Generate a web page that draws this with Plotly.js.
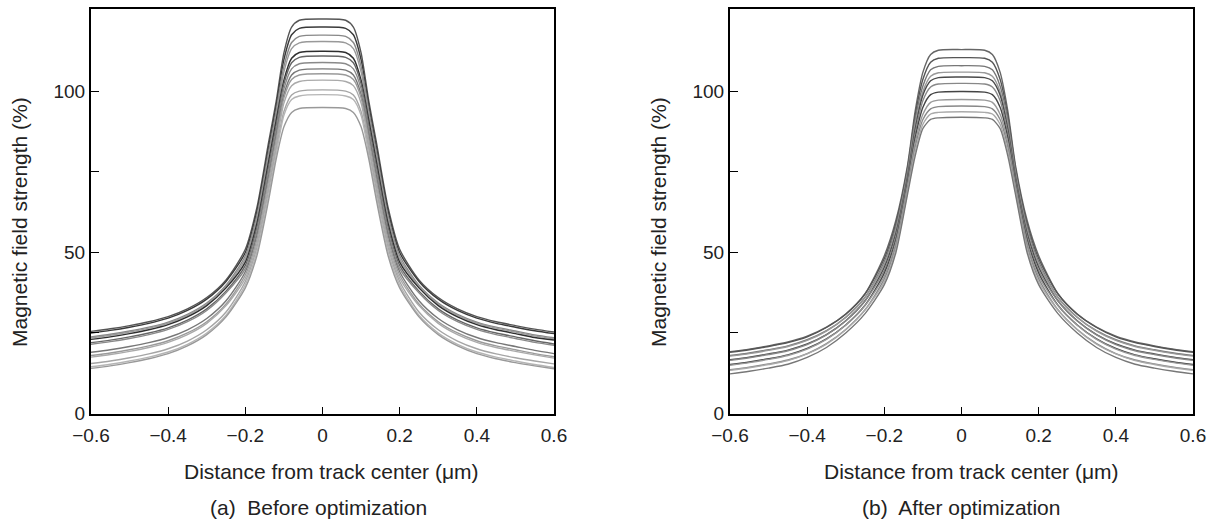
<!DOCTYPE html>
<html>
<head>
<meta charset="utf-8">
<script src="https://cdn.plot.ly/plotly-3.0.1.min.js"></script>
<style>html,body{margin:0;padding:0;background:#fff;}#chart{width:1218px;height:523px;}</style>
</head>
<body>
<div id="chart"></div>
<script>
// Distance from track center (µm)
const xPos = [-0.6,-0.55,-0.5,-0.45,-0.4,-0.35,-0.3,-0.25,-0.2,-0.17,-0.14,-0.12,-0.1,-0.08,-0.06,0,
              0.06,0.08,0.1,0.12,0.14,0.17,0.2,0.25,0.3,0.35,0.4,0.45,0.5,0.55,0.6];

// (a) Before optimization: magnetic field strength (%)
const b01 = [25.5,26.3,27.3,28.5,30.1,32.5,36,41.5,51,64,84,97,112,120,122.1,122.5,122.1,120,112,97,84,64,51,41.5,36,32.5,30.1,28.5,27.3,26.2,25.3];
const b02 = [25,25.8,26.8,28,29.6,32,35.5,41,50,62.8,82.5,95.5,109.9,117.6,119.6,120,119.6,117.6,109.9,95.5,82.5,62.8,50,41,35.5,32,29.6,28,26.8,25.7,24.8];
const b03 = [23.8,24.6,25.6,26.8,28.4,30.8,34.3,39.8,49,61.5,81,94,107.8,115.2,117.1,117.5,117.1,115.2,107.8,94,81,61.5,49,39.8,34.3,30.8,28.4,26.8,25.6,24.4,23.5];
const b04 = [23.5,24.3,25.3,26.5,28.1,30.5,34,39.5,48,60.3,79.5,92.5,106.1,113.3,115.1,115.5,115.1,113.3,106.1,92.5,79.5,60.3,48,39.5,34,30.5,28.1,26.5,25.3,24.1,23.2];
const b05 = [23,23.8,24.8,26,27.6,30,33.5,39,47,59,78,91,103.5,110.3,112.1,112.5,112.1,110.3,103.5,91,78,59,47,39,33.5,30,27.6,26,24.8,23.6,22.8];
const b06 = [22,22.8,23.8,25,26.6,29,32.5,38,46,57.8,76.5,89.5,102.4,108.9,110.6,111,110.6,108.9,102.4,89.5,76.5,57.8,46,38,32.5,29,26.6,25,23.8,22.6,21.6];
const b07 = [21.5,22.3,23.3,24.5,26.1,28.5,32,37.5,45,56.5,75,88,100.8,107,108.6,109,108.6,107,100.8,88,75,56.5,45,37.5,32,28.5,26.1,24.5,23.3,22.1,21.2];
const b08 = [19,19.8,20.8,22,23.6,26,29.5,35,44,55.3,73.5,86.5,99.1,105.1,106.6,107,106.6,105.1,99.1,86.5,73.5,55.3,44,35,29.5,26,23.6,22,20.8,19.6,18.6];
const b09 = [18,18.8,19.8,21,22.6,25,28.5,34,43,54,72,85,98,103.7,105.1,105.5,105.1,103.7,98,85,72,54,43,34,28.5,25,22.6,21,19.8,18.6,17.6];
const b10 = [17.5,18.3,19.3,20.5,22.1,24.5,28,33.5,42,52.8,70.5,83.5,96.4,101.8,103.1,103.5,103.1,101.8,96.4,83.5,70.5,52.8,42,33.5,28,24.5,22.1,20.5,19.3,18.2,17.2];
const b11 = [15.5,16.3,17.3,18.5,20.1,22.5,26,31.5,41,51.5,69,82,93.8,98.9,100.1,100.5,100.1,98.9,93.8,82,69,51.5,41,31.5,26,22.5,20.1,18.5,17.3,16.3,15.4];
const b12 = [14.5,15.3,16.3,17.5,19.1,21.5,25,30.5,40,50.3,67.5,80.5,92.6,97.5,98.6,99,98.6,97.5,92.6,80.5,67.5,50.3,40,30.5,25,21.5,19.1,17.5,16.3,15.2,14.3];
const b13 = [14,14.8,15.8,17,18.6,21,24.5,30,39,49,66,79,89,93.5,94.7,95,94.7,93.5,89,79,66,49,39,30,24.5,21,18.6,17,15.8,14.8,13.9];

// (b) After optimization: magnetic field strength (%)
const a01 = [19.2,20,21,22.2,24,26.8,30.9,37.2,49,60,77,94,106,111.5,112.8,113,112.8,111.5,106,94,77,60,49,37.2,30.9,26.8,24,22.2,21,20,19.2];
const a02 = [19,19.8,20.8,22,23.8,26.7,30.8,37.1,48.1,59,76.1,92.6,103.8,109.1,110.3,110.5,110.3,109.1,103.8,92.6,76.1,59,48.1,37.1,30.8,26.7,23.8,22,20.8,19.8,19];
const a03 = [18,18.8,19.8,21,22.9,25.7,29.9,36.1,47.2,58,75.2,91.2,101.7,106.7,107.8,108,107.8,106.7,101.7,91.2,75.2,58,47.2,36.1,29.9,25.7,22.9,21,19.8,18.8,18];
const a04 = [17.8,18.6,19.6,20.8,22.7,25.6,29.8,36,46.3,57,74.3,89.8,100,104.7,105.8,106,105.8,104.7,100,89.8,74.3,57,46.3,36,29.8,25.6,22.7,20.8,19.6,18.6,17.8];
const a05 = [16.7,17.5,18.5,19.7,21.6,24.5,28.8,35,45.4,56,73.4,88.4,98.9,103.3,104.3,104.5,104.3,103.3,98.9,88.4,73.4,56,45.4,35,28.8,24.5,21.6,19.7,18.5,17.5,16.7];
const a06 = [16.5,17.3,18.3,19.5,21.4,24.4,28.7,34.9,44.5,55,72.5,87,97.2,101.4,102.3,102.5,102.3,101.4,97.2,87,72.5,55,44.5,34.9,28.7,24.4,21.4,19.5,18.3,17.3,16.5];
const a07 = [15.2,16,17,18.2,20.2,23.2,27.5,33.6,43.6,54,71.6,85.6,95.1,99,99.8,100,99.8,99,95.1,85.6,71.6,54,43.6,33.6,27.5,23.2,20.2,18.2,17,16,15.2];
const a08 = [15,15.8,16.8,18,20,23,27.4,33.5,42.7,53,70.7,84.2,92.9,96.6,97.3,97.5,97.3,96.6,92.9,84.2,70.7,53,42.7,33.5,27.4,23,20,18,16.8,15.8,15];
const a09 = [13.6,14.4,15.4,16.6,18.6,21.7,26.1,32.2,41.8,52,69.8,82.8,91.3,94.6,95.3,95.5,95.3,94.6,91.3,82.8,69.8,52,41.8,32.2,26.1,21.7,18.6,16.6,15.4,14.4,13.6];
const a10 = [13.4,14.2,15.2,16.4,18.5,21.5,26,32.1,40.9,51,68.9,81.4,89.8,93,93.5,93.7,93.5,93,89.8,81.4,68.9,51,40.9,32.1,26,21.5,18.5,16.4,15.2,14.2,13.4];
const a11 = [12.3,13.1,14.1,15.3,17.4,20.5,25,31,40,50,68,80,88.5,91.3,91.8,92,91.8,91.3,88.5,80,68,50,40,31,25,20.5,17.4,15.3,14.1,13.1,12.3];

const yTickVals = [0,25,50,75,100];
const yTickText = ['0','','50','','100'];
const xTickVals = [-0.6,-0.4,-0.2,0,0.2,0.4,0.6];
const xTickText = ['\u22120.6','\u22120.4','\u22120.2','0','0.2','0.4','0.6'];

const beforeSeries = [b01,b02,b03,b04,b05,b06,b07,b08,b09,b10,b11,b12,b13];
const afterSeries = [a01,a02,a03,a04,a05,a06,a07,a08,a09,a10,a11];
const beforeColors = ['#555','#3a3a3a','#888','#999','#2e2e2e','#666','#8a8a8a','#777','#9a9a9a','#aaa','#a5a5a5','#b5b5b5','#999'];
const afterColors = ['#666','#555','#777','#999','#4a4a4a','#888','#444','#999','#888','#aaa','#777'];

const traces = [];
beforeSeries.forEach((ys,i)=>traces.push({x:xPos,y:ys,xaxis:'x',yaxis:'y',type:'scatter',mode:'lines',
  line:{color:beforeColors[i],width:1.4,shape:'spline',smoothing:0.7},hoverinfo:'skip',showlegend:false}));
afterSeries.forEach((ys,i)=>traces.push({x:xPos,y:ys,xaxis:'x2',yaxis:'y2',type:'scatter',mode:'lines',
  line:{color:afterColors[i],width:1.4,shape:'spline',smoothing:0.7},hoverinfo:'skip',showlegend:false}));

const W=1218,H=523;
const tickFont={family:'Liberation Sans, Arial, sans-serif',size:19,color:'#222'};
const titleFont={family:'Liberation Sans, Arial, sans-serif',size:21,color:'#222'};
function xa(dom){return {domain:dom,range:[-0.6,0.6],tickmode:'array',tickvals:xTickVals,ticktext:xTickText,
  ticks:'inside',ticklen:7,tickwidth:1,tickcolor:'#000',showline:true,linewidth:2,linecolor:'#000',mirror:true,
  showgrid:false,zeroline:false,tickfont:tickFont,ticklabelstandoff:4,fixedrange:true};}
function ya(anchor){return {domain:[1-413.5/H,1-9/H],range:[0,125.6],anchor:anchor,tickmode:'array',tickvals:yTickVals,ticktext:yTickText,
  ticks:'inside',ticklen:8,tickwidth:1,tickcolor:'#000',showline:true,linewidth:2,linecolor:'#000',mirror:true,
  showgrid:false,zeroline:false,tickfont:tickFont,fixedrange:true};}

const ann=(txt,px,py,angle)=>({text:txt,xref:'paper',yref:'paper',x:px/W,y:1-py/H,xanchor:'center',yanchor:'middle',
  showarrow:false,textangle:angle||0,font:titleFont});

const layout={width:W,height:H,margin:{l:0,r:0,t:0,b:0},paper_bgcolor:'#fff',plot_bgcolor:'#fff',showlegend:false,
  xaxis:Object.assign(xa([91/W,554/W]),{anchor:'y'}),
  yaxis:ya('x'),
  xaxis2:Object.assign(xa([730/W,1193/W]),{anchor:'y2'}),
  yaxis2:ya('x2'),
  annotations:[
    ann('Magnetic field strength (%)',19,222,-90),
    ann('Magnetic field strength (%)',658,222,-90),
    ann('Distance from track center (\u03bcm)',331,471),
    ann('Distance from track center (\u03bcm)',971,471),
    ann('(a)\u00a0 Before optimization',318,507),
    ann('(b)\u00a0 After optimization',961,507)
  ]};
Plotly.newPlot('chart',traces,layout,{staticPlot:true,displayModeBar:false});
</script>
</body>
</html>
